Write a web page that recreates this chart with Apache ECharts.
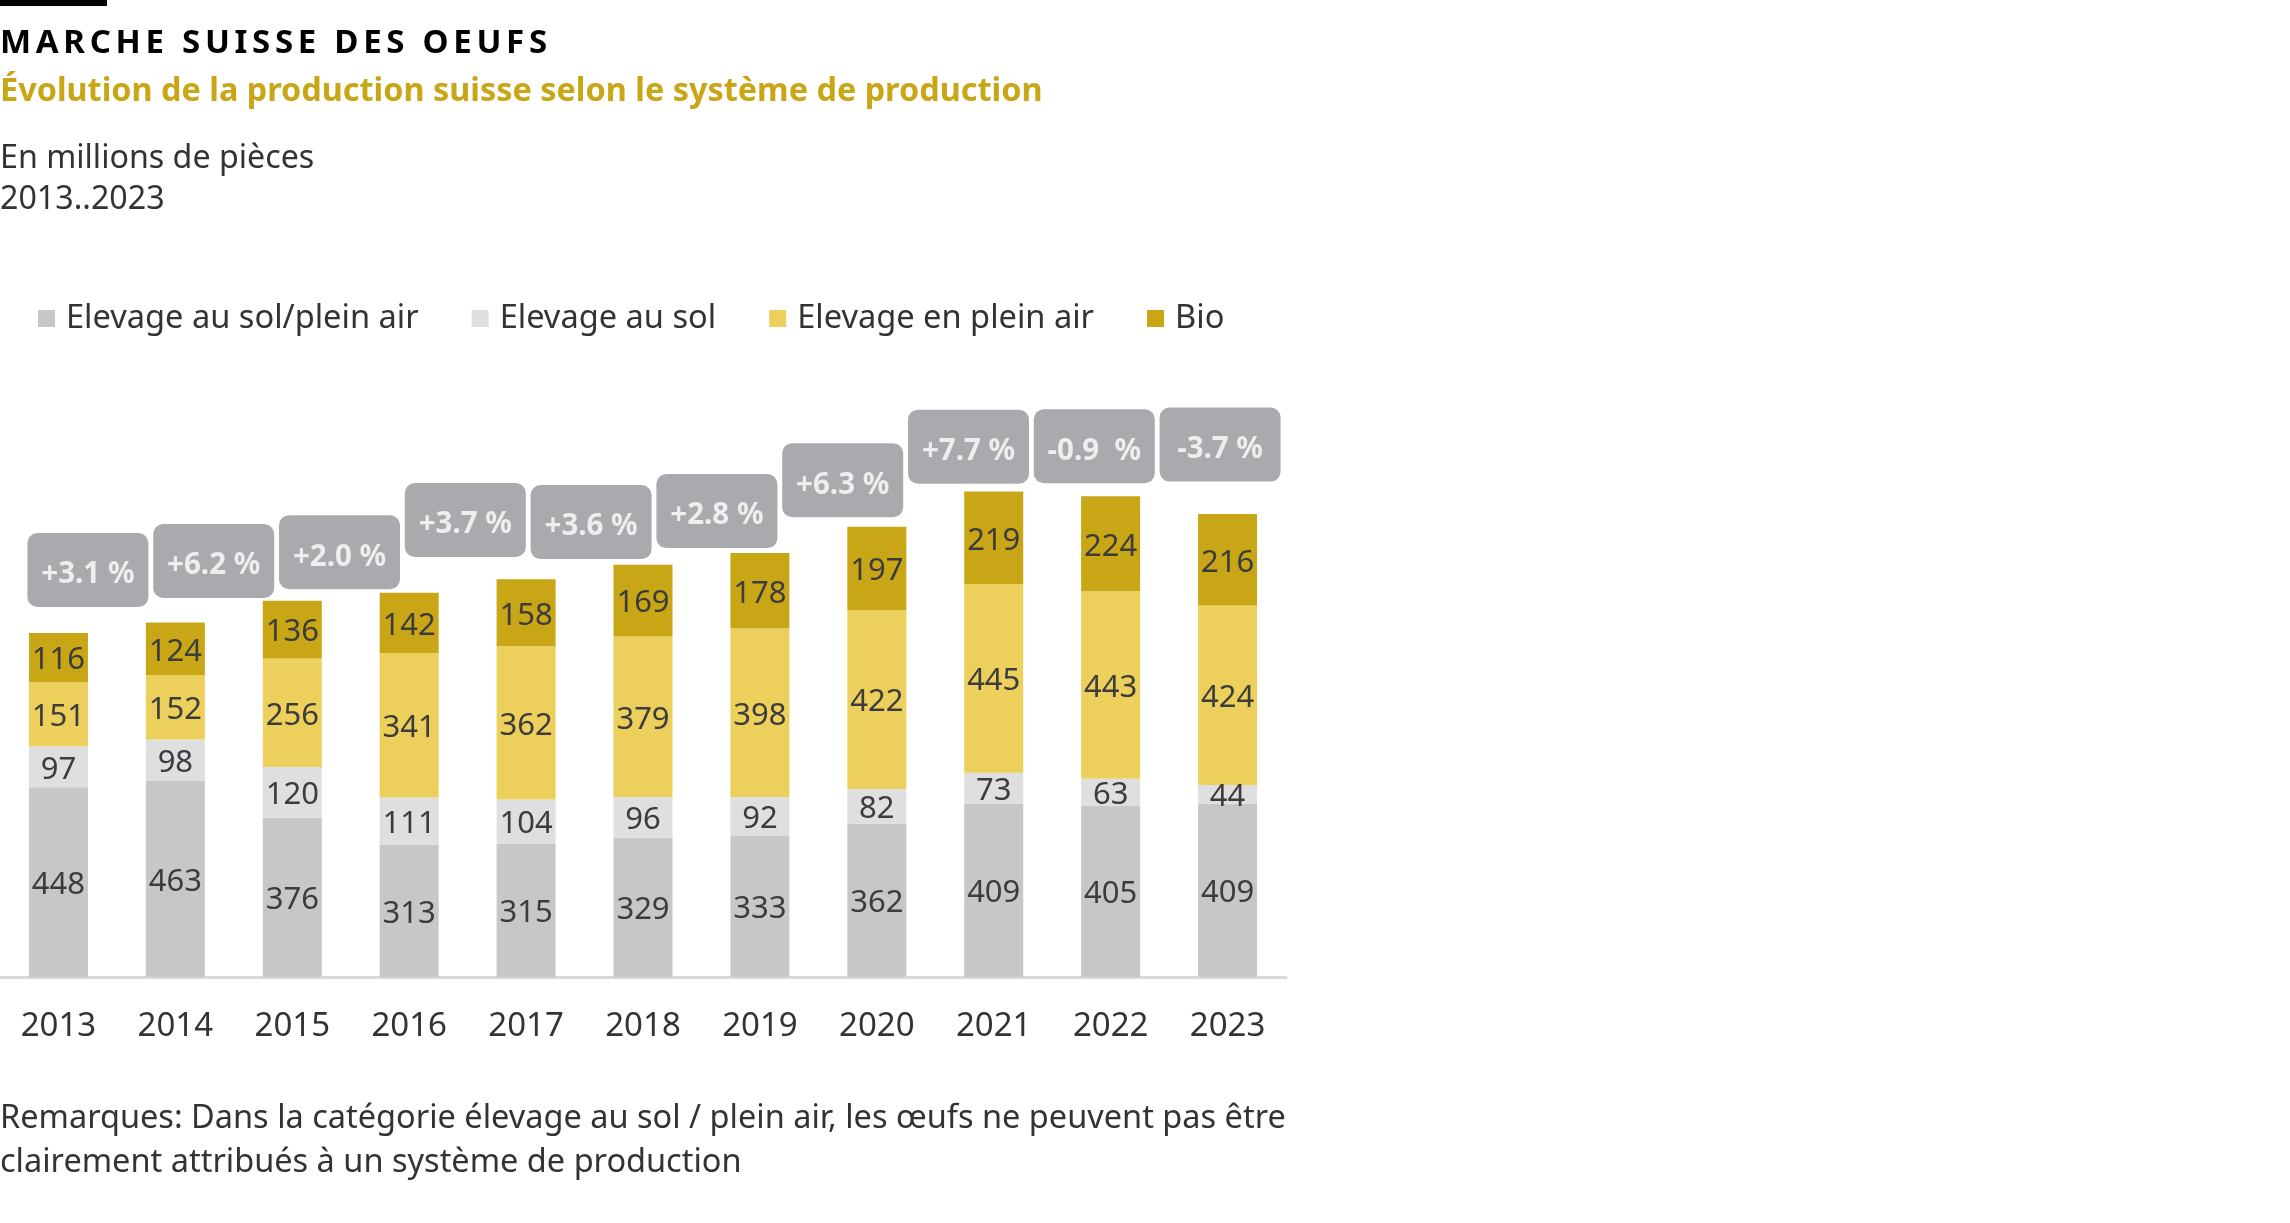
<!DOCTYPE html>
<html>
<head>
<meta charset="utf-8">
<script src="https://cdn.jsdelivr.net/npm/echarts@6/dist/echarts.min.js"></script>
<style>
  html, body { margin: 0; padding: 0; background: #fff; }
  body { width: 2290px; height: 1223px; position: relative; overflow: hidden; font-family: "Noto Sans", sans-serif; }
  #chart { position: absolute; left: 0; top: 0; width: 2290px; height: 1223px; }
  .txt { position: absolute; left: 0; white-space: nowrap; z-index: 2; }
  #topbar { position: absolute; left: 0; top: 0; width: 107px; height: 6px; background: #000; z-index: 2; }
  #titre { top: 24px; font-size: 33px; line-height: 33px; font-weight: bold; letter-spacing: 4.7px; color: #000; }
  #soustitre { top: 72px; font-size: 32.4px; line-height: 32px; font-weight: bold; color: #c9a616; }
  #unite { top: 140px; font-size: 32.2px; line-height: 32px; color: #333; }
  #periode { top: 181px; font-size: 32.2px; line-height: 32px; color: #333; }
  #remarque { top: 1094px; font-size: 32.5px; line-height: 44px; color: #333; }
</style>
</head>
<body>
<div id="topbar"></div>
<div class="txt" id="titre">MARCHE SUISSE DES OEUFS</div>
<div class="txt" id="soustitre">Évolution de la production suisse selon le système de production</div>
<div class="txt" id="unite">En millions de pièces</div>
<div class="txt" id="periode">2013..2023</div>
<div class="txt" id="remarque">Remarques: Dans la catégorie élevage au sol / plein air, les œufs ne peuvent pas être<br>clairement attribués à un système de production</div>
<div id="chart"></div>
<script>
// donnees (millions de pieces)
const annees = ["2013", "2014", "2015", "2016", "2017", "2018", "2019", "2020", "2021", "2022", "2023"];
const solPleinAir = [448, 463, 376, 313, 315, 329, 333, 362, 409, 405, 409];
const auSol = [97, 98, 120, 111, 104, 96, 92, 82, 73, 63, 44];
const pleinAir = [151, 152, 256, 341, 362, 379, 398, 422, 445, 443, 424];
const bio = [116, 124, 136, 142, 158, 169, 178, 197, 219, 224, 216];

// variations annuelles et hauteur des pastilles (en millions)
const variations = ["+3.1 %", "+6.2 %", "+2.0 %", "+3.7 %", "+3.6 %", "+2.8 %", "+6.3 %", "+7.7 %", "-0.9  %", "-3.7 %"];
const niveauPastille = [961, 982, 1003, 1079, 1074, 1100, 1173, 1252, 1253, 1257];

const police = "Noto Sans";
const couleurs = ["#c6c7c9", "#dedfe1", "#ecd05b", "#c9a616"];

// rectangle arrondi pour les pastilles
const pastille = "path://M10,0 H111 A10,10 0 0 1 121,10 V64 A10,10 0 0 1 111,74 H10 A10,10 0 0 1 0,64 V10 A10,10 0 0 1 10,0 Z";

const etiquette = {
  show: true,
  position: "inside",
  offset: [0, 3],
  fontFamily: police,
  fontSize: 31,
  color: "#3c3c3c"
};

function serieBarre(nom, valeurs, couleur) {
  return {
    name: nom,
    type: "bar",
    stack: "total",
    xAxisIndex: 0,
    yAxisIndex: 0,
    barWidth: 59,
    data: valeurs,
    itemStyle: { color: couleur },
    label: etiquette,
    emphasis: { disabled: true }
  };
}

const chart = echarts.init(document.getElementById("chart"), null, { renderer: "canvas" });
chart.setOption({
  animation: false,
  color: couleurs,
  legend: {
    left: 38,
    top: 302,
    padding: 0,
    icon: "rect",
    itemWidth: 17,
    itemHeight: 17,
    itemGap: 53,
    textStyle: { fontFamily: police, fontSize: 32.6, color: "#333", padding: [0, 0, 0, 6] },
    data: ["Elevage au sol/plein air", "Elevage au sol", "Elevage en plein air", "Bio"]
  },
  grid: [
    { left: -3, width: 1289, top: 384, height: 593 },
    { left: 25, width: 1258, top: 384, height: 593 }
  ],
  xAxis: [
    {
      type: "category",
      gridIndex: 0,
      data: annees,
      axisLine: { lineStyle: { color: "#d9d9d9", width: 3 } },
      axisTick: { show: false },
      axisLabel: { fontFamily: police, fontSize: 33, color: "#333", margin: 33 }
    },
    {
      type: "category",
      gridIndex: 1,
      data: variations,
      show: false
    }
  ],
  yAxis: [
    { type: "value", gridIndex: 0, min: 0, max: 1400, show: false, splitLine: { show: false } },
    { type: "value", gridIndex: 1, min: 0, max: 1400, show: false, splitLine: { show: false } }
  ],
  series: [
    serieBarre("Elevage au sol/plein air", solPleinAir, couleurs[0]),
    serieBarre("Elevage au sol", auSol, couleurs[1]),
    serieBarre("Elevage en plein air", pleinAir, couleurs[2]),
    serieBarre("Bio", bio, couleurs[3]),
    {
      name: "variation",
      type: "scatter",
      xAxisIndex: 1,
      yAxisIndex: 1,
      symbol: pastille,
      symbolSize: [121, 74],
      itemStyle: { color: "#939598" },
      data: niveauPastille,
      label: {
        show: true,
        position: "inside",
        offset: [0, 5],
        formatter: (p) => variations[p.dataIndex],
        fontFamily: police,
        fontSize: 29.5,
        fontWeight: "bold",
        color: "#fff"
      },
      emphasis: { disabled: true }
    }
  ]
});
</script>
</body>
</html>
